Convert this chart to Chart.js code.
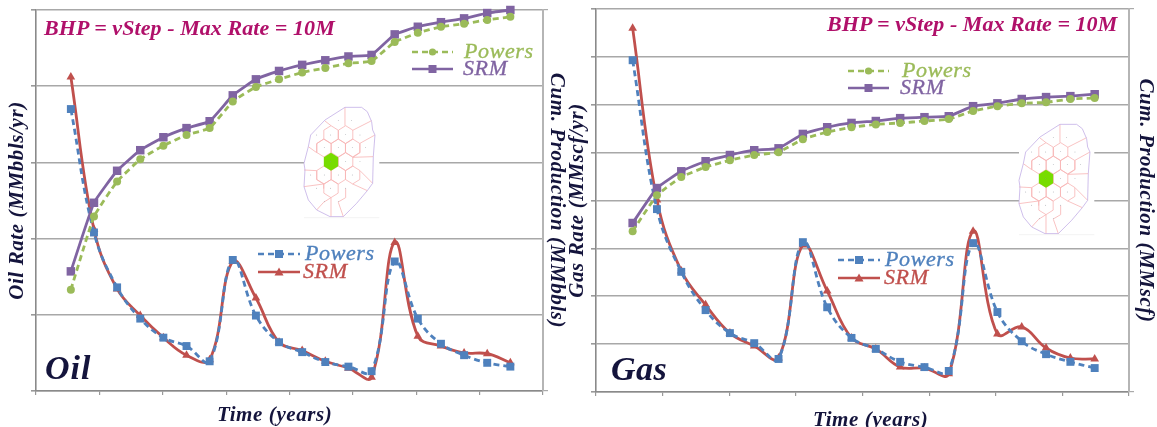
<!DOCTYPE html>
<html>
<head>
<meta charset="utf-8">
<script src="https://cdn.jsdelivr.net/npm/chart.js@4"></script>
<style>
    body { margin: 0; background: #fff; width: 1157px; height: 427px; overflow: hidden; position: relative; }
    canvas { position: absolute; top: 0; }
    #oilChart { left: 0; }
    #gasChart { left: 568px; }
    .label { position: absolute; white-space: nowrap; font-family: "Liberation Serif", serif; font-style: italic; transform: translateY(-50%); line-height: 1; }
    svg { position: absolute; overflow: visible; }
</style>
</head>
<body>
<canvas id="oilChart" width="568" height="427"></canvas>
<canvas id="gasChart" width="589" height="427"></canvas>
<script>
// time axis, years since start
const years = [0.55, 0.915, 1.28, 1.645, 2.01, 2.375, 2.74, 3.105, 3.47, 3.835, 4.2, 4.565, 4.93, 5.295, 5.66, 6.025, 6.39, 6.755, 7.12, 7.485];

// axis has no printed numbers, so values are in grid steps
const oilRatePowers = [3.70, 2.08, 1.36, 0.95, 0.70, 0.59, 0.39, 1.72, 0.99, 0.64, 0.51, 0.38, 0.32, 0.26, 1.70, 0.95, 0.62, 0.47, 0.37, 0.32];
const oilRateSrm = [4.12, 2.12, 1.34, 0.99, 0.70, 0.47, 0.41, 1.70, 1.22, 0.64, 0.53, 0.39, 0.30, 0.18, 1.95, 0.72, 0.59, 0.50, 0.49, 0.37];
const oilCumPowers = [1.33, 2.29, 2.75, 3.04, 3.22, 3.36, 3.45, 3.80, 3.99, 4.09, 4.18, 4.24, 4.30, 4.33, 4.58, 4.70, 4.78, 4.82, 4.87, 4.91];
const oilCumSrm = [1.57, 2.47, 2.89, 3.16, 3.33, 3.45, 3.54, 3.88, 4.09, 4.20, 4.28, 4.34, 4.39, 4.41, 4.68, 4.78, 4.84, 4.89, 4.96, 5.00];

const gasRatePowers = [6.93, 3.82, 2.51, 1.71, 1.23, 1.02, 0.69, 3.13, 1.77, 1.13, 0.90, 0.63, 0.52, 0.44, 3.11, 1.67, 1.06, 0.79, 0.63, 0.50];
const gasRateSrm = [7.60, 4.01, 2.53, 1.82, 1.23, 0.96, 0.71, 3.07, 2.11, 1.13, 0.90, 0.52, 0.50, 0.38, 3.36, 1.21, 1.36, 0.92, 0.71, 0.69];
const gasCumPowers = [3.36, 4.11, 4.49, 4.70, 4.84, 4.95, 5.01, 5.28, 5.43, 5.53, 5.59, 5.62, 5.66, 5.70, 5.87, 5.97, 6.03, 6.05, 6.12, 6.14];
const gasCumSrm = [3.53, 4.26, 4.61, 4.82, 4.95, 5.05, 5.09, 5.39, 5.53, 5.62, 5.66, 5.72, 5.74, 5.76, 5.97, 6.03, 6.12, 6.16, 6.18, 6.22];

const BLUE = '#4f81bd';
const RED = '#c0504d';
const GREEN = '#9bbb59';
const PURPLE = '#8064a2';
const NAVY = '#14143c';
const MAGENTA = '#b0106a';

function toPoints(values) {
    return values.map((v, i) => ({ x: years[i], y: v }));
}

function series(label, values, color, dashed, style, radius, axis, tension) {
    return {
        label: label,
        data: toPoints(values),
        yAxisID: axis,
        borderColor: color,
        backgroundColor: color,
        borderWidth: 2.8,
        borderDash: dashed ? [6, 4] : [],
        pointStyle: style,
        pointRadius: radius,
        pointBorderWidth: 0,
        tension: tension,
        clip: false,
    };
}

const axisTitleFont = { family: 'Liberation Serif', size: 21, weight: 'bold', style: 'italic', lineHeight: 1 };

function makePanel(id, p) {
    new Chart(document.getElementById(id), {
        type: 'line',
        data: {
            datasets: [
                series('Powers cum', p.cumPowers, GREEN, true, 'circle', 4, 'y1', 0.12),
                series('SRM cum', p.cumSrm, PURPLE, false, 'rect', 6, 'y1', 0.12),
                series('Powers', p.ratePowers, BLUE, true, 'rect', 5.6, 'y', 0.4),
                series('SRM', p.rateSrm, RED, false, 'triangle', 5, 'y', 0.4),
            ],
        },
        options: {
            responsive: false,
            animation: false,
            layout: { padding: { top: p.top, left: 0, right: 0, bottom: 0 } },
            plugins: { legend: { display: false }, tooltip: { enabled: false } },
            scales: {
                x: {
                    type: 'linear',
                    min: 0,
                    max: 8,
                    ticks: { stepSize: 1, display: false },
                    grid: { drawOnChartArea: false, color: '#999', tickLength: 4, lineWidth: 1.2 },
                    border: { color: '#8a8a8a', width: 1.6 },
                    afterFit(scale) { scale.height = p.bottomH; },
                },
                y: {
                    min: 0,
                    max: p.steps,
                    ticks: { stepSize: 1, display: false },
                    grid: { color: '#a8a8a8', lineWidth: 1.6, tickLength: 5, tickColor: '#999' },
                    border: { color: '#8a8a8a', width: 1.6 },
                    title: {
                        display: true,
                        text: p.leftTitle,
                        color: NAVY,
                        font: axisTitleFont,
                        padding: { top: p.leftPad, bottom: 0 },
                    },
                    afterFit(scale) { scale.width = p.leftW; },
                },
                y1: {
                    position: 'right',
                    min: 0,
                    max: p.steps,
                    ticks: { stepSize: p.steps, display: false },
                    grid: { drawOnChartArea: false, tickLength: 5, color: '#aaa', lineWidth: 1.2 },
                    border: { color: '#b5b5b5', width: 2 },
                    title: {
                        display: true,
                        text: p.rightTitle,
                        color: NAVY,
                        font: axisTitleFont,
                        padding: { top: p.rightPad, bottom: 0 },
                    },
                    afterFit(scale) { scale.width = p.rightW; },
                },
            },
        },
        plugins: [{
            id: 'titleSpacing',
            beforeDraw(chart) { chart.ctx.letterSpacing = '0.6px'; },
        }],
    });
}

makePanel('oilChart', {
    ratePowers: oilRatePowers, rateSrm: oilRateSrm, cumPowers: oilCumPowers, cumSrm: oilCumSrm,
    steps: 5, top: 10, bottomH: 36, leftW: 36, rightW: 25, leftPad: 7, rightPad: 1,
    leftTitle: 'Oil Rate (MMbbls/yr)', rightTitle: 'Cum. Production (MMbbls)',
});
makePanel('gasChart', {
    ratePowers: gasRatePowers, rateSrm: gasRateSrm, cumPowers: gasCumPowers, cumSrm: gasCumSrm,
    steps: 8, top: 9, bottomH: 35, leftW: 28, rightW: 28, leftPad: -1, rightPad: 1,
    leftTitle: 'Gas Rate (MMscf/yr)', rightTitle: 'Cum. Production (MMscf)',
});

// overlay text
function addText(x, cy, text, size, weight, color, spacing, stroke) {
    const el = document.createElement('div');
    el.className = 'label';
    el.textContent = text;
    el.style.left = x + 'px';
    el.style.top = cy + 'px';
    el.style.fontSize = size + 'px';
    el.style.fontWeight = weight;
    el.style.color = color;
    el.style.letterSpacing = (spacing || 0) + 'px';
    if (stroke) el.style.webkitTextStroke = stroke + 'px ' + color;
    document.body.appendChild(el);
}

// legend key: line sample, marker and name
const SVG_NS = 'http://www.w3.org/2000/svg';
function svgEl(parent, tag, attrs) {
    const el = document.createElementNS(SVG_NS, tag);
    for (const k in attrs) el.setAttribute(k, attrs[k]);
    parent.appendChild(el);
    return el;
}
function addKey(x, y, len, color, dashed, marker, textX, text) {
    const svg = svgEl(document.body, 'svg', { width: len, height: 14 });
    svg.style.left = x + 'px';
    svg.style.top = (y - 7) + 'px';
    svgEl(svg, 'line', { x1: 0, y1: 7, x2: len, y2: 7, stroke: color, 'stroke-width': 2.6, 'stroke-dasharray': dashed ? '6 4' : 'none' });
    const c = len / 2;
    if (marker === 'rect') svgEl(svg, 'rect', { x: c - 4, y: 3, width: 8, height: 8, fill: color });
    if (marker === 'circle') svgEl(svg, 'circle', { cx: c, cy: 7, r: 3.6, fill: color });
    if (marker === 'triangle') svgEl(svg, 'polygon', { points: `${c - 4.5},10.5 ${c + 4.5},10.5 ${c},2.5`, fill: color });
    addText(textX, y - 1, text, 22, 'normal', color, 0.6, 0.35);
}

// well map inset, coordinates are in its own little picture
const wellOutline = '195,322 245,322 262,335 275,365 278,390 285,405 280,470 278,550 262,572 230,610 190,650 150,650 110,630 85,600 72,560 75,510 72,490 85,440 92,405 135,360';
const wellCells = [[175, 444], [132, 444], [218, 444], [197, 485], [175, 525], [132, 525], [218, 525], [153, 566], [197, 404], [153, 404]];
const wellSpokes = ['195,322 195,377', '135,363 153,377', '275,362 218,391', '285,405 240,430', '85,440 110,458', '280,470 219,472', '278,550 240,512', '153,650 153,593', '262,572 218,552', '72,510 110,512', '72,560 131,552', '110,630 131,607', '190,650 175,607', '110,512 110,539', '110,539 131,552', '131,552 131,566', '240,430 240,458', '240,458 219,472', '110,458 110,431', '110,431 131,417', '175,606 197,593', '197,593 197,566', '131,607 153,593'];
const wellDots = [[175, 362], [215, 362], [110, 405], [152, 405], [197, 403], [240, 405], [133, 443], [175, 443], [217, 443], [257, 443], [152, 485], [197, 485], [240, 485], [92, 525], [133, 525], [175, 525], [217, 525], [110, 565], [152, 565], [197, 565], [133, 605], [175, 605]];

function hexPoints(cx, cy) {
    return [[0, -27], [21.5, -13.5], [21.5, 13.5], [0, 27], [-21.5, 13.5], [-21.5, -13.5]]
        .map(o => (cx + o[0]) + ',' + (cy + o[1])).join(' ');
}

function addWellMap(left, top) {
    const svg = svgEl(document.body, 'svg', { width: 75.3, height: 112.3, viewBox: '72 318 226 337' });
    svg.style.left = left + 'px';
    svg.style.top = top + 'px';
    svgEl(svg, 'rect', { x: 72, y: 318, width: 226, height: 337, fill: '#fff' });
    wellCells.forEach(c => svgEl(svg, 'polygon', { points: hexPoints(c[0], c[1]), fill: 'none', stroke: '#f8b4b4', 'stroke-width': 2.4 }));
    wellSpokes.forEach(s => svgEl(svg, 'polyline', { points: s, fill: 'none', stroke: '#f8b4b4', 'stroke-width': 2.4 }));
    svgEl(svg, 'polygon', { points: hexPoints(153, 485), fill: '#78dc00' });
    svgEl(svg, 'polygon', { points: wellOutline, fill: 'none', stroke: '#c3aee6', 'stroke-width': 2.4 });
    wellDots.forEach(d => svgEl(svg, 'circle', { cx: d[0], cy: d[1], r: 1.3, fill: '#8a9098' }));
    svgEl(svg, 'line', { x1: 72, y1: 653, x2: 298, y2: 653, stroke: '#eee', 'stroke-width': 2 });
}

addWellMap(304, 106);
addWellMap(1019, 123);

addText(44, 28, 'BHP = vStep - Max Rate = 10M', 22, 'bold', MAGENTA, 0.07);
addText(827, 24, 'BHP = vStep - Max Rate = 10M', 22, 'bold', MAGENTA, 0.05);
addText(45, 368, 'Oil', 34, 'bold', NAVY, 1);
addText(611, 369, 'Gas', 34, 'bold', NAVY, 0.5);
addText(217, 414, 'Time (years)', 21, 'bold', NAVY, 0.6);
addText(813, 419, 'Time (years)', 21, 'bold', NAVY, 0.6);

addKey(258, 254, 42, BLUE, true, 'rect', 305, 'Powers');
addKey(258, 272, 42, RED, false, 'triangle', 303, 'SRM');
addKey(412, 52, 41, GREEN, true, 'circle', 464, 'Powers');
addKey(412, 69, 41, PURPLE, false, 'rect', 463, 'SRM');
addKey(838, 260, 42, BLUE, true, 'rect', 885, 'Powers');
addKey(838, 278, 42, RED, false, 'triangle', 884, 'SRM');
addKey(848, 71, 41, GREEN, true, 'circle', 902, 'Powers');
addKey(848, 88, 41, PURPLE, false, 'rect', 900, 'SRM');
</script>
</body>
</html>
